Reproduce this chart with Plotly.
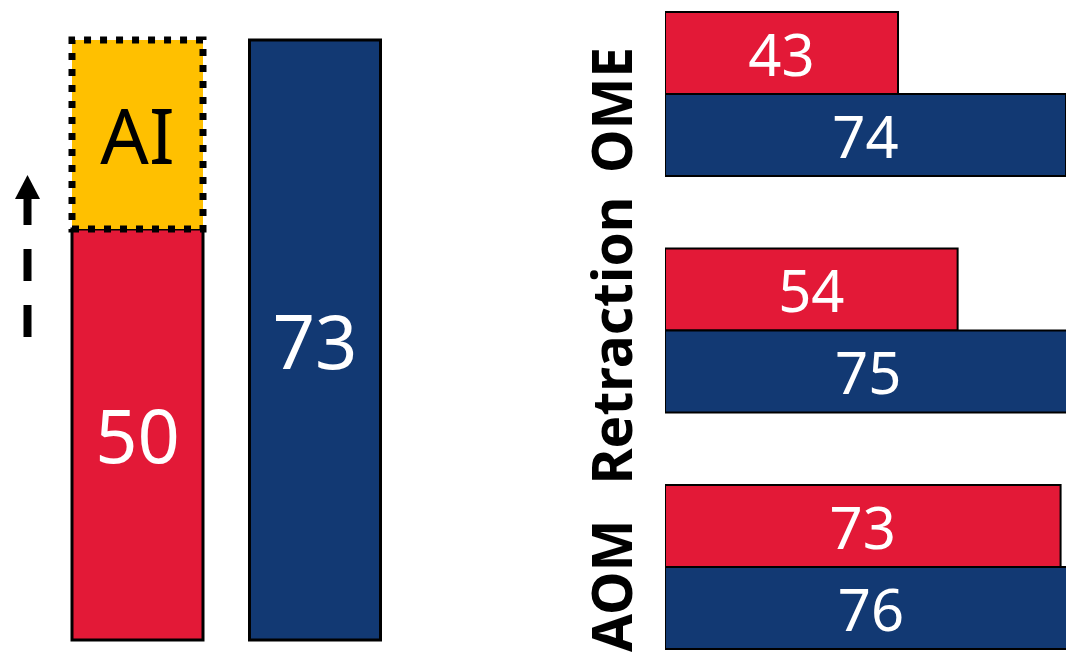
import plotly.graph_objects as go

W, H = 1066, 652

# ---- data ----
left_labels = ["Before", "After"]
left_red = [50]          # red bar (left panel)
left_blue = [73]         # blue bar (left panel)
ai_label = "AI"
ai_gain = [left_blue[0] - left_red[0]]   # yellow stacked AI part reaching blue level

right_categories = ["OME", "Retraction", "AOM"]
right_red = [43, 54, 73]
right_blue = [74, 75, 76]

RED = "#E31937"
BLUE = "#123973"
YELLOW = "#FFC000"
FONT = "Noto Sans, Open Sans, sans-serif"

fig = go.Figure()

common_text = dict(textposition="inside", insidetextanchor="middle", constraintext="none", textangle=0)

# ---- left panel ----
bw = 131 / 177.5
fig.add_trace(go.Bar(
    x=[0], y=left_red, width=bw, marker=dict(color=RED, line=dict(color="black", width=3)),
    text=[str(v) for v in left_red], textfont=dict(family=FONT, size=74, color="white"),
    xaxis="x", yaxis="y", hoverinfo="skip", showlegend=False, **common_text))
fig.add_trace(go.Bar(
    x=[0], y=ai_gain, base=left_red, width=bw, marker=dict(color=YELLOW, line=dict(width=0)),
    text=[ai_label], textfont=dict(family=FONT, size=76, color="black"),
    xaxis="x", yaxis="y", hoverinfo="skip", showlegend=False, **common_text))
fig.add_trace(go.Bar(
    x=[1], y=left_blue, width=bw, marker=dict(color=BLUE, line=dict(color="black", width=3)),
    text=[str(v) for v in left_blue], textfont=dict(family=FONT, size=74, color="white"),
    xaxis="x", yaxis="y", hoverinfo="skip", showlegend=False, **common_text))

# ---- right panel ----
hw = 82 / 236.5
fig.add_trace(go.Bar(
    y=right_categories, x=right_red, orientation="h", width=hw, offset=-hw,
    marker=dict(color=RED, line=dict(color="black", width=2)),
    text=[str(v) for v in right_red], textfont=dict(family=FONT, size=58, color="white"),
    xaxis="x2", yaxis="y2", hoverinfo="skip", showlegend=False, **common_text))
fig.add_trace(go.Bar(
    y=right_categories, x=right_blue, orientation="h", width=hw, offset=0,
    marker=dict(color=BLUE, line=dict(color="black", width=2)),
    text=[str(v) for v in right_blue], textfont=dict(family=FONT, size=58, color="white"),
    xaxis="x2", yaxis="y2", hoverinfo="skip", showlegend=False, **common_text))

# category labels (rotated)
label_shift = [-16, -10, -19]
annotations = []
for cat, ys in zip(right_categories, label_shift):
    annotations.append(dict(
        x=610 / W, xref="paper", y=cat, yref="y2", yshift=ys,
        text="<b>%s</b>" % cat, textangle=-90, showarrow=False,
        xanchor="center", yanchor="middle",
        font=dict(family=FONT, size=55, color="black")))

def px(x):
    return x / W

def py(y):
    return 1 - y / H

shapes = [
    # dotted border around AI segment
    dict(type="rect", xref="x", yref="y", x0=-bw / 2, x1=bw / 2,
         y0=left_red[0], y1=left_red[0] + ai_gain[0],
         line=dict(color="black", width=7, dash="7px,9px"), fillcolor="rgba(0,0,0,0)"),
    # dashed arrow shaft
    dict(type="line", xref="paper", yref="paper", x0=px(27.5), x1=px(27.5), y0=py(337), y1=py(198),
         line=dict(color="black", width=8, dash="32px,24px")),
    # arrow head
    dict(type="path", xref="paper", yref="paper",
         path="M %f %f L %f %f L %f %f Z" % (px(15), py(199), px(40), py(199), px(27.5), py(175)),
         fillcolor="black", line=dict(width=0)),
]

fig.update_layout(
    width=W, height=H, margin=dict(l=0, r=0, t=0, b=0),
    paper_bgcolor="white", plot_bgcolor="white",
    barmode="overlay", showlegend=False,
    annotations=annotations, shapes=shapes,
    xaxis=dict(domain=[0, 420 / W], range=[-137.5 / 177.5, (420 - 137.5) / 177.5],
               visible=False, fixedrange=True),
    yaxis=dict(domain=[0, 1], range=[-12 / (600 / 73), 73 + 40 / (600 / 73)],
               visible=False, fixedrange=True),
    xaxis2=dict(domain=[665 / W, 1], range=[0, 74], visible=False, anchor="y2", fixedrange=True),
    yaxis2=dict(domain=[0, 1], anchor="x2", type="category", categoryorder="array",
                categoryarray=right_categories,
                range=[2 + (652 - 567) / 236.5, -94 / 236.5], visible=False, fixedrange=True),
)

fig.write_html("out.html", config={"displayModeBar": False},
               post_script="document.body.style.margin='0';document.body.style.overflow='hidden';")
